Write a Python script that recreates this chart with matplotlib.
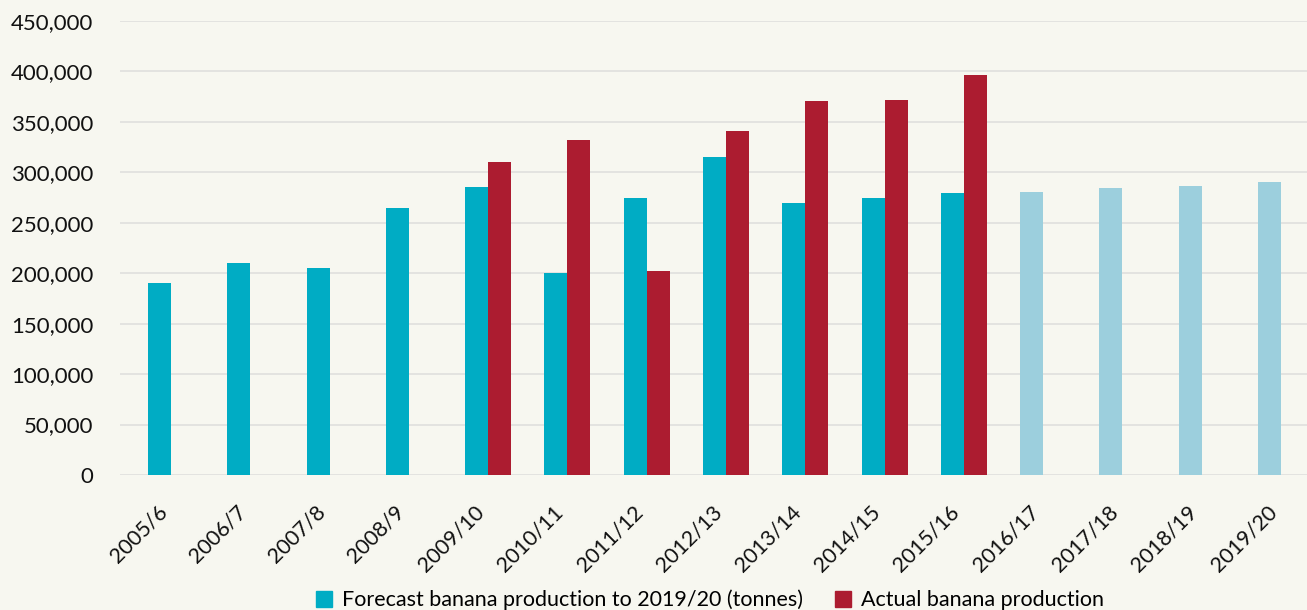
import matplotlib
matplotlib.use("Agg")
import matplotlib.pyplot as plt
import matplotlib.transforms as mtransforms
from matplotlib.patches import Patch
from matplotlib.ticker import FuncFormatter
import numpy as np

years = ["2005/6", "2006/7", "2007/8", "2008/9", "2009/10", "2010/11", "2011/12",
         "2012/13", "2013/14", "2014/15", "2015/16", "2016/17", "2017/18",
         "2018/19", "2019/20"]
forecast = [190000, 210000, 205000, 265000, 285000, 200000, 275000, 315000,
            270000, 275000, 280000, 281000, 284000, 286000, 290000]
actual = [np.nan, np.nan, np.nan, np.nan, 310000, 332000, 202000, 341000,
          370500, 371500, 396000, np.nan, np.nan, np.nan, np.nan]
future_from = "2016/17"  # forecast-only years drawn in lighter colour

TEAL = "#00ACC4"
LIGHT = "#9CCFDD"
RED = "#AC1C30"
BG = "#F7F7F0"
GRID = "#E1E1DF"

plt.rcParams["font.family"] = ["Lato", "DejaVu Sans"]

fig = plt.figure(figsize=(13.07, 6.10), dpi=100, facecolor=BG)
ax = fig.add_axes([120 / 1307, (610 - 475) / 610, (1309 - 120) / 1307, (475 - 21) / 610])
ax.set_facecolor(BG)

x = np.arange(len(years))
w = 0.29
split = years.index(future_from)
colors = [TEAL if i < split else LIGHT for i in range(len(years))]
ax.bar(x, forecast, width=w, color=colors, zorder=3)
ax.bar(x + w, actual, width=w, color=RED, zorder=3)

ax.set_xlim(-0.5, len(years) - 0.5)
ax.set_ylim(0, 450000)
ax.set_yticks(np.arange(0, 450001, 50000))
ax.yaxis.set_major_formatter(FuncFormatter(lambda v, p: f"{int(v):,}"))
ax.grid(axis="y", color=GRID, linewidth=1.3, zorder=0)
ax.set_axisbelow(True)
for s in ax.spines.values():
    s.set_visible(False)
ax.tick_params(axis="both", length=0, colors="#111111")
ax.tick_params(axis="y", pad=19, labelsize=16)

ax.set_xticks(x)
ax.set_xticklabels(years, rotation=45, ha="right", rotation_mode="anchor", fontsize=15.5)
offset = mtransforms.ScaledTranslation(-3 / 100, -22 / 100, fig.dpi_scale_trans)
for lbl in ax.get_xticklabels():
    lbl.set_transform(lbl.get_transform() + offset)

handles = [Patch(color=TEAL, label="Forecast banana production to 2019/20 (tonnes)"),
           Patch(color=RED, label="Actual banana production")]
fig.legend(handles=handles, loc="center", bbox_to_anchor=(710 / 1307, 1 - 600 / 610),
           ncol=2, frameon=False, fontsize=15.5, handlelength=0.75, handleheight=0.75,
           handletextpad=0.45, columnspacing=1.5, borderpad=0)

fig.savefig("out.png", dpi=100, facecolor=BG)
